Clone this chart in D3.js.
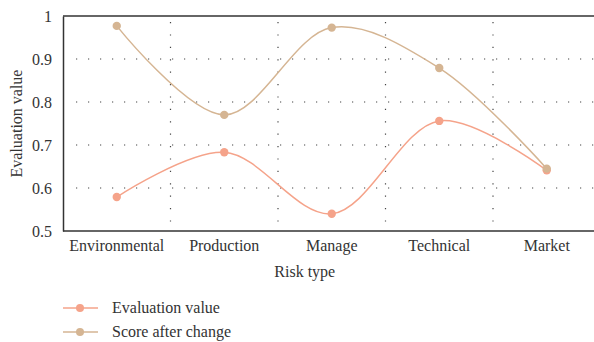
<!DOCTYPE html>
<html>
<head>
<meta charset="utf-8">
<script src="https://cdn.jsdelivr.net/npm/d3@7"></script>
<style>
  body { margin: 0; background: #fff; }
  svg text { font-family: "Liberation Serif", "Times New Roman", Times, serif; fill: #333; }
</style>
</head>
<body>
<div id="container"></div>
<script>
// data
const categories = ["Environmental", "Production", "Manage", "Technical", "Market"];
const evaluationValue = [0.579, 0.683, 0.540, 0.756, 0.641];
const scoreAfterChange = [0.977, 0.770, 0.973, 0.879, 0.645];
const yTicks = [0.5, 0.6, 0.7, 0.8, 0.9, 1];
const seriesNames = ["Evaluation value", "Score after change"];
const seriesColors = ["#f5a38a", "#d5b593"];

let w = 594;
let h = 342;
let plotLeft = 63, plotTop = 16, plotBottom = 231;
let bandW = 107.5;
let plotRight = plotLeft + bandW * categories.length;
let fontSize = 16;

let viz = d3.select("#container")
    .append("svg")
    .attr("width", w)
    .attr("height", h);

let xScale = d3.scaleBand()
    .domain(categories)
    .range([plotLeft, plotRight]);

let yScale = d3.scaleLinear()
    .domain([0.5, 1])
    .range([plotBottom, plotTop]);

// dotted grid
let grid = viz.append("g").attr("class", "grid");
grid.selectAll(".hgrid")
    .data(yTicks.filter(d => d > 0.5 && d < 1))
    .enter().append("line")
    .attr("x1", plotLeft + 13).attr("x2", w)
    .attr("y1", d => yScale(d)).attr("y2", d => yScale(d))
    .attr("stroke", "#444")
    .attr("stroke-width", 1.2)
    .attr("stroke-dasharray", "1.2,10.8");
grid.selectAll(".vgrid")
    .data(categories.slice(1))
    .enter().append("line")
    .attr("x1", d => xScale(d)).attr("x2", d => xScale(d))
    .attr("y1", plotTop + 6).attr("y2", plotBottom)
    .attr("stroke", "#444")
    .attr("stroke-width", 1.2)
    .attr("stroke-dasharray", "1.2,11.2");

// frame
viz.append("line").attr("x1", plotLeft).attr("x2", w).attr("y1", plotTop).attr("y2", plotTop)
    .attr("stroke", "#333").attr("stroke-width", 1.5);
viz.append("line").attr("x1", plotLeft).attr("x2", w).attr("y1", plotBottom).attr("y2", plotBottom)
    .attr("stroke", "#333").attr("stroke-width", 1.5);

// y axis
let yAxis = d3.axisLeft(yScale).tickValues(yTicks).tickSize(0).tickPadding(11)
    .tickFormat(d => d === 1 ? "1" : d3.format(".1f")(d));
let yAxisGroup = viz.append("g").attr("transform", `translate(${plotLeft},0)`).call(yAxis);
yAxisGroup.attr("font-family", null).attr("font-size", null);
yAxisGroup.select(".domain").attr("stroke", "#333").attr("stroke-width", 1.5);
yAxisGroup.selectAll("text").style("font-size", fontSize + "px").attr("fill", "#333");

// x axis
let xAxis = d3.axisBottom(xScale).tickSize(0).tickPadding(9);
let xAxisGroup = viz.append("g").attr("transform", `translate(0,${plotBottom})`).call(xAxis);
xAxisGroup.attr("font-family", null).attr("font-size", null);
xAxisGroup.select(".domain").remove();
xAxisGroup.selectAll("text").style("font-size", fontSize + "px").attr("fill", "#333");

// axis titles
viz.append("text")
    .attr("x", (plotLeft + plotRight) / 2 - 27)
    .attr("y", 277)
    .attr("text-anchor", "middle")
    .style("font-size", fontSize + "px")
    .text("Risk type");
viz.append("text")
    .attr("transform", `translate(22,${(plotTop + plotBottom) / 2}) rotate(-90)`)
    .attr("text-anchor", "middle")
    .style("font-size", fontSize + "px")
    .text("Evaluation value");

// lines and points
let line = d3.line()
    .x((d, i) => xScale(categories[i]) + xScale.bandwidth() / 2)
    .y(d => yScale(d))
    .curve(d3.curveCatmullRom);

[evaluationValue, scoreAfterChange].forEach((series, s) => {
    viz.append("path")
        .datum(series)
        .attr("d", line)
        .attr("fill", "none")
        .attr("stroke", seriesColors[s])
        .attr("stroke-width", 1.5);
    viz.selectAll(".pt" + s)
        .data(series)
        .enter().append("circle")
        .attr("cx", (d, i) => xScale(categories[i]) + xScale.bandwidth() / 2)
        .attr("cy", d => yScale(d))
        .attr("r", 4.2)
        .attr("fill", seriesColors[s]);
});

// legend
let legend = viz.append("g");
seriesNames.forEach((name, s) => {
    let y = 308 + s * 24;
    legend.append("line")
        .attr("x1", 63).attr("x2", 98).attr("y1", y).attr("y2", y)
        .attr("stroke", seriesColors[s]).attr("stroke-width", 1.5);
    legend.append("circle")
        .attr("cx", 80).attr("cy", y).attr("r", 4)
        .attr("fill", seriesColors[s]);
    legend.append("text")
        .attr("x", 112).attr("y", y + 5)
        .style("font-size", fontSize + "px")
        .text(name);
});
</script>
</body>
</html>
